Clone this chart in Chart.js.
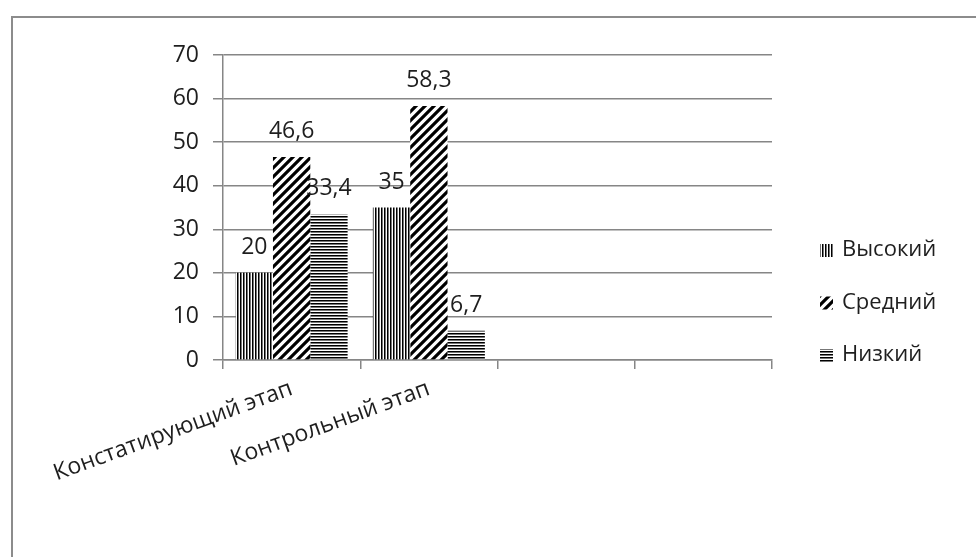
<!DOCTYPE html>
<html>
<head>
<meta charset="utf-8">
<script src="https://cdn.jsdelivr.net/npm/chart.js@4.4.1/dist/chart.umd.min.js"></script>
<style>
    body { margin: 0; background: #fff; }
    #frame { position: absolute; left: 11px; top: 16px; width: 990px; height: 600px;
             border-left: 2px solid #8c8c8c; border-top: 2px solid #8c8c8c; }
    #wrap { position: absolute; left: 0; top: 0; width: 976px; height: 557px; }
</style>
</head>
<body>
<div id="frame"></div>
<div id="wrap"><canvas id="myChart"></canvas></div>
<script>
// Данные диаграммы
const categories = ["Констатирующий этап", "Контрольный этап", "", ""];
const seriesNames = ["Высокий", "Средний", "Низкий"];
const vysokiy = [20, 35, null, null];
const sredniy = [46.6, 58.3, null, null];
const nizkiy = [33.4, 6.7, null, null];
const yMax = 70;
const yStep = 10;

const FONT = '"Open Sans", "DejaVu Sans", sans-serif';
const TEXT = '#1e1e1e';
const GRID = '#868686';

// Штриховки для столбцов
function makePattern(kind) {
    const c = document.createElement('canvas');
    const g = c.getContext('2d');
    if (kind === 'vert') {
        c.width = 3; c.height = 3;
        g.fillStyle = '#fff'; g.fillRect(0, 0, 3, 3);
        g.fillStyle = '#000'; g.fillRect(0, 0, 1, 3);
        g.fillStyle = '#777'; g.fillRect(1, 0, 1, 3);
    } else if (kind === 'horiz') {
        c.width = 3; c.height = 3;
        g.fillStyle = '#fff'; g.fillRect(0, 0, 3, 3);
        g.fillStyle = '#000'; g.fillRect(0, 0, 3, 1);
        g.fillStyle = '#777'; g.fillRect(0, 1, 3, 1);
    } else {
        const s = 9;
        c.width = s; c.height = s;
        g.fillStyle = '#fff'; g.fillRect(0, 0, s, s);
        g.strokeStyle = '#000'; g.lineWidth = 3.2;
        g.beginPath();
        g.moveTo(-2, s + 2); g.lineTo(s + 2, -2);
        g.moveTo(-2, 2); g.lineTo(2, -2);
        g.moveTo(s - 2, s + 2); g.lineTo(s + 2, s - 2);
        g.stroke();
    }
    return g.createPattern(c, 'repeat');
}

// Подписи значений над столбцами
const valueLabels = {
    id: 'valueLabels',
    afterDatasetsDraw(chart) {
        const ctx = chart.ctx;
        ctx.save();
        ctx.font = '23px ' + FONT;
        ctx.fillStyle = TEXT;
        ctx.textAlign = 'center';
        ctx.textBaseline = 'alphabetic';
        chart.data.datasets.forEach((ds, i) => {
            chart.getDatasetMeta(i).data.forEach((bar, j) => {
                const v = ds.data[j];
                if (v == null) return;
                ctx.fillText(String(v).replace('.', ','), bar.x, bar.y - 19);
            });
        });
        ctx.restore();
    }
};

// Легенда справа
const sideLegend = {
    id: 'sideLegend',
    afterDraw(chart) {
        const ctx = chart.ctx;
        const area = chart.chartArea;
        const x = area.right + 48;
        ctx.save();
        ctx.font = '22px ' + FONT;
        ctx.textBaseline = 'middle';
        ctx.textAlign = 'left';
        chart.data.datasets.forEach((ds, i) => {
            const y = area.bottom - 110 + i * 52.5;
            ctx.fillStyle = ds.backgroundColor;
            ctx.fillRect(x, y - 6, 13, 13);
            ctx.fillStyle = TEXT;
            ctx.fillText(ds.label, x + 22, y);
        });
        ctx.restore();
    }
};

const patterns = [makePattern('vert'), makePattern('diag'), makePattern('horiz')];
const values = [vysokiy, sredniy, nizkiy];

const ctx = document.getElementById('myChart').getContext('2d');
new Chart(ctx, {
    type: 'bar',
    data: {
        labels: categories,
        datasets: seriesNames.map((name, i) => ({
            label: name,
            data: values[i],
            backgroundColor: patterns[i],
            borderWidth: 0,
            categoryPercentage: 0.816,
            barPercentage: 1.0
        }))
    },
    plugins: [valueLabels, sideLegend],
    options: {
        responsive: true,
        maintainAspectRatio: false,
        animation: false,
        layout: { padding: { top: 55, right: 204, left: 0, bottom: 0 } },
        plugins: {
            legend: { display: false },
            tooltip: { enabled: false }
        },
        scales: {
            x: {
                grid: { offset: true, drawOnChartArea: false, drawTicks: true, tickLength: 9, color: GRID, lineWidth: 1.5 },
                border: { display: true, color: GRID, width: 1.5 },
                ticks: {
                    autoSkip: false, minRotation: 20, maxRotation: 20, padding: 6,
                    color: TEXT, font: { family: FONT, size: 23 }
                },
                afterFit(scale) { scale.height = 197; }
            },
            y: {
                min: 0, max: yMax,
                grid: { color: GRID, lineWidth: 1.5, tickLength: 10 },
                border: { display: true, color: GRID, width: 1.5 },
                ticks: {
                    stepSize: yStep, padding: 14,
                    color: TEXT, font: { family: FONT, size: 23 }
                },
                afterFit(scale) { scale.width = 223; }
            }
        }
    }
});
</script>
</body>
</html>
